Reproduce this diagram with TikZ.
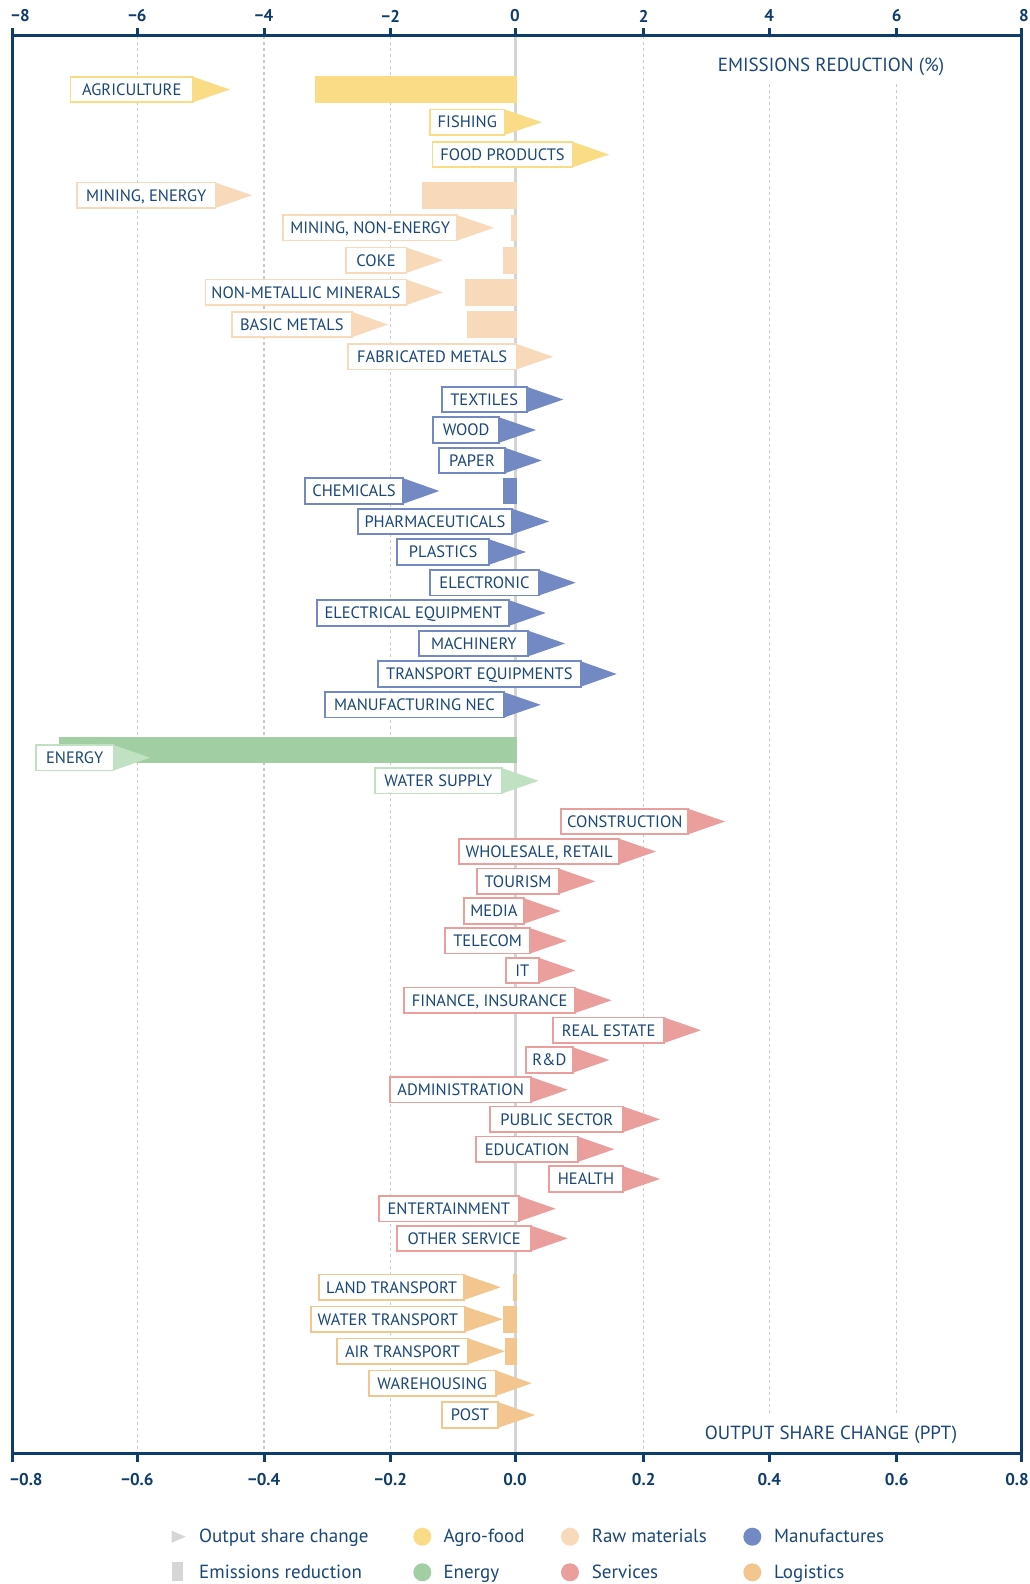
\documentclass[tikz,border=0pt]{standalone}
\usepackage{fontspec}
\setmainfont{PT Sans}
\definecolor{agro}{HTML}{FBDC86}
\definecolor{raw}{HTML}{F8DABA}
\definecolor{man}{HTML}{7289C4}
\definecolor{enbar}{HTML}{A1CFA3}
\definecolor{enl}{HTML}{C0E1C2}
\definecolor{ser}{HTML}{EA9F9D}
\definecolor{logi}{HTML}{F4C68F}
\definecolor{txt}{HTML}{1A4777}
\definecolor{axisc}{HTML}{0D3C6D}
\definecolor{gridc}{HTML}{C9C9C9}
\definecolor{zeroc}{HTML}{D4D4D4}
\definecolor{legg}{HTML}{D6D6D6}
\newcommand{\srow}[7]{%
  \node[lbl, draw=#7, minimum width={#5-#4}] (#1) at ({(#4+#5)/2},#3) {#2};
  \fill[#7] (#1.north east) -- (#6,#3) -- (#1.south east) -- cycle;
}
\newcommand{\sbar}[3]{% y, xstart, color
  \fill[#3] (#2,{#1-13.3}) rectangle (516.5,{#1+13.3});
}
\begin{document}
\begin{tikzpicture}[x=1pt,y=-1pt,
  lbl/.style={fill=white, line width=1.7pt, minimum height=25.5pt, inner sep=0pt, outer sep=0pt,
    font=\fontsize{16.5}{16.5}\selectfont, text=txt, text height=11.6pt, text depth=0pt},
  gridl/.style={draw=gridc, line width=1.2pt, dash pattern=on 3pt off 3pt},
  axisl/.style={draw=axisc, line width=3pt},
  ticklbl/.style={font=\fontsize{17}{17}\selectfont\bfseries, text=axisc, inner sep=0pt},
  atitle/.style={font=\fontsize{19}{19}\selectfont, text=txt, inner sep=0pt, text height=13.3pt, text depth=0pt},
  leglbl/.style={font=\fontsize{19}{19}\selectfont, text=txt, inner sep=0pt, anchor=west, text height=13.3pt, text depth=0pt}]
\useasboundingbox (0,0) rectangle (1029,1584);
% grid
\foreach \gx in {137.3,264,390.7,643.7,769.3,896.7} {\draw[gridl] (\gx,36) -- (\gx,1453);}
\draw[draw=zeroc, line width=3pt] (515,36) -- (515,1453);
% white areas behind axis titles
\fill[white] (700,38) rectangle (965,83);
\fill[white] (690,1416) rectangle (975,1451);
% bars
\sbar{89.5}{315}{agro}
\sbar{195.3}{422}{raw}
\sbar{227.8}{511}{raw}
\sbar{260.2}{503}{raw}
\sbar{292.3}{465}{raw}
\sbar{324.5}{467}{raw}
\sbar{491}{503}{man}
\sbar{750}{59}{enbar}
\sbar{1287.2}{513.3}{logi}
\sbar{1319.2}{503.3}{logi}
\sbar{1351.2}{505}{logi}
% rows
\srow{agri}{AGRICULTURE}{89.5}{70.5}{193}{230}{agro}
\srow{fish}{FISHING}{122.2}{430}{504.6}{542}{agro}
\srow{food}{FOOD PRODUCTS}{154.5}{432.5}{572.5}{609}{agro}
\srow{mine}{MINING, ENERGY}{195.3}{77}{215.4}{252}{raw}
\srow{minn}{MINING, NON-ENERGY}{227.8}{283.2}{457}{494}{raw}
\srow{coke}{COKE}{260.2}{345.7}{406.4}{443}{raw}
\srow{nonm}{NON-METALLIC MINERALS}{292.3}{205.4}{406.4}{443}{raw}
\srow{basic}{BASIC METALS}{324.5}{231.8}{351.8}{388}{raw}
\srow{fabm}{FABRICATED METALS}{356.7}{347.9}{516.4}{553}{raw}
\srow{texti}{TEXTILES}{399.5}{441.7}{526.7}{563.3}{man}
\srow{wood}{WOOD}{430}{433.3}{499}{536}{man}
\srow{paper}{PAPER}{460.5}{439}{505}{541.7}{man}
\srow{chem}{CHEMICALS}{491}{304.7}{403.3}{439.3}{man}
\srow{pharma}{PHARMACEUTICALS}{521.5}{357.7}{512.3}{549}{man}
\srow{plast}{PLASTICS}{552}{397.3}{489}{526}{man}
\srow{elec}{ELECTRONIC}{582.7}{430}{539}{575.7}{man}
\srow{eleq}{ELECTRICAL EQUIPMENT}{613}{317.3}{509.3}{545.7}{man}
\srow{mach}{MACHINERY}{643.5}{419.3}{528.3}{565}{man}
\srow{treq}{TRANSPORT EQUIPMENTS}{674}{378}{580.7}{616.7}{man}
\srow{mnec}{MANUFACTURING NEC}{704.8}{325.3}{503.7}{540.7}{man}
\srow{energy}{ENERGY}{757.7}{35.7}{113.6}{150}{enl}
\srow{water}{WATER SUPPLY}{780.8}{375}{501.8}{538.6}{enl}
\srow{constr}{CONSTRUCTION}{821.5}{561.3}{688.3}{725}{ser}
\srow{whole}{WHOLESALE, RETAIL}{851.5}{459}{619.3}{656}{ser}
\srow{tour}{TOURISM}{881.3}{477.3}{558.7}{595.3}{ser}
\srow{media}{MEDIA}{911}{464}{524}{560.7}{ser}
\srow{tele}{TELECOM}{940.8}{445.3}{530}{566.7}{ser}
\srow{it}{IT}{970.5}{506}{538.7}{575.3}{ser}
\srow{fin}{FINANCE, INSURANCE}{1000.3}{404.3}{575}{611.7}{ser}
\srow{real}{REAL ESTATE}{1030.2}{553}{664.3}{701}{ser}
\srow{rd}{R\&D}{1060}{526}{572.7}{609.3}{ser}
\srow{admin}{ADMINISTRATION}{1089.7}{390.3}{531}{567.7}{ser}
\srow{pub}{PUBLIC SECTOR}{1119.3}{490.3}{623.3}{660}{ser}
\srow{edu}{EDUCATION}{1149.2}{476.3}{577.7}{614.3}{ser}
\srow{health}{HEALTH}{1179}{548.7}{623.3}{660}{ser}
\srow{ent}{ENTERTAINMENT}{1208.7}{378.7}{519}{555.7}{ser}
\srow{oth}{OTHER SERVICE}{1238.4}{397.3}{531}{567.7}{ser}
\srow{land}{LAND TRANSPORT}{1287.2}{319.3}{464}{500.7}{logi}
\srow{wtr}{WATER TRANSPORT}{1319.2}{310.7}{465}{502.7}{logi}
\srow{air}{AIR TRANSPORT}{1351.2}{336.7}{468.3}{505}{logi}
\srow{ware}{WAREHOUSING}{1383.2}{368.7}{495.7}{531.7}{logi}
\srow{post}{POST}{1415}{441.7}{498.3}{535}{logi}
% axis frame
\draw[axisl, line cap=rect] (12,36) -- (1021.7,36);
\draw[axisl, line cap=rect] (12,1453) -- (1021.7,1453);
\draw[axisl] (12,28) -- (12,1462);
\draw[axisl] (1021.7,28) -- (1021.7,1462);
\foreach \gx in {137.3,264,390.7,515,643.7,769.3,896.7} {
  \draw[axisl] (\gx,28) -- (\gx,36);
  \draw[axisl] (\gx,1453) -- (\gx,1462);
}
% tick labels
\node[ticklbl, anchor=west] (t1) at (11,16) {−8};
\node[ticklbl] (t2) at (137.3,16) {−6};
\node[ticklbl] (t3) at (264,16) {−4};
\node[ticklbl] (t4) at (390.7,16) {−2};
\node[ticklbl] (t5) at (515,16) {0};
\node[ticklbl] (t6) at (643.7,16) {2};
\node[ticklbl] (t7) at (769.3,16) {4};
\node[ticklbl] (t8) at (896.7,16) {6};
\node[ticklbl, anchor=east] (t9) at (1029,16) {8};
\node[ticklbl, anchor=west] (b1) at (10,1480) {−0.8};
\node[ticklbl] (b2) at (137.3,1480) {−0.6};
\node[ticklbl] (b3) at (264,1480) {−0.4};
\node[ticklbl] (b4) at (390.7,1480) {−0.2};
\node[ticklbl] (b5) at (515,1480) {0.0};
\node[ticklbl] (b6) at (643.7,1480) {0.2};
\node[ticklbl] (b7) at (769.3,1480) {0.4};
\node[ticklbl] (b8) at (896.7,1480) {0.6};
\node[ticklbl, anchor=east] (b9) at (1029,1480) {0.8};
% axis titles
\node[atitle] (etitle) at (831,64.7) {EMISSIONS REDUCTION (\%)};
\node[atitle] (otitle) at (831,1432.7) {OUTPUT SHARE CHANGE (PPT)};
% legend
\fill[legg] (171.7,1530.7) -- (185.7,1536.7) -- (171.7,1542.7) -- cycle;
\fill[legg] (171.7,1561.7) rectangle (182.7,1581);
\node[leglbl] (l1) at (199,1536.3) {Output share change};
\node[leglbl] (l2) at (199,1572) {Emissions reduction};
\fill[agro] (422.3,1536.7) circle (9pt);
\fill[enbar] (422.3,1572.3) circle (9pt);
\fill[raw] (570,1536.7) circle (9pt);
\fill[ser] (570,1572.3) circle (9pt);
\fill[man] (752.3,1536.7) circle (9pt);
\fill[logi] (752.3,1572.3) circle (9pt);
\node[leglbl] (l3) at (443.3,1536.3) {Agro-food};
\node[leglbl] (l4) at (443.3,1572) {Energy};
\node[leglbl] (l5) at (591.7,1536.3) {Raw materials};
\node[leglbl] (l6) at (591.7,1572) {Services};
\node[leglbl] (l7) at (774,1536.3) {Manufactures};
\node[leglbl] (l8) at (774,1572) {Logistics};
\end{tikzpicture}
\end{document}
